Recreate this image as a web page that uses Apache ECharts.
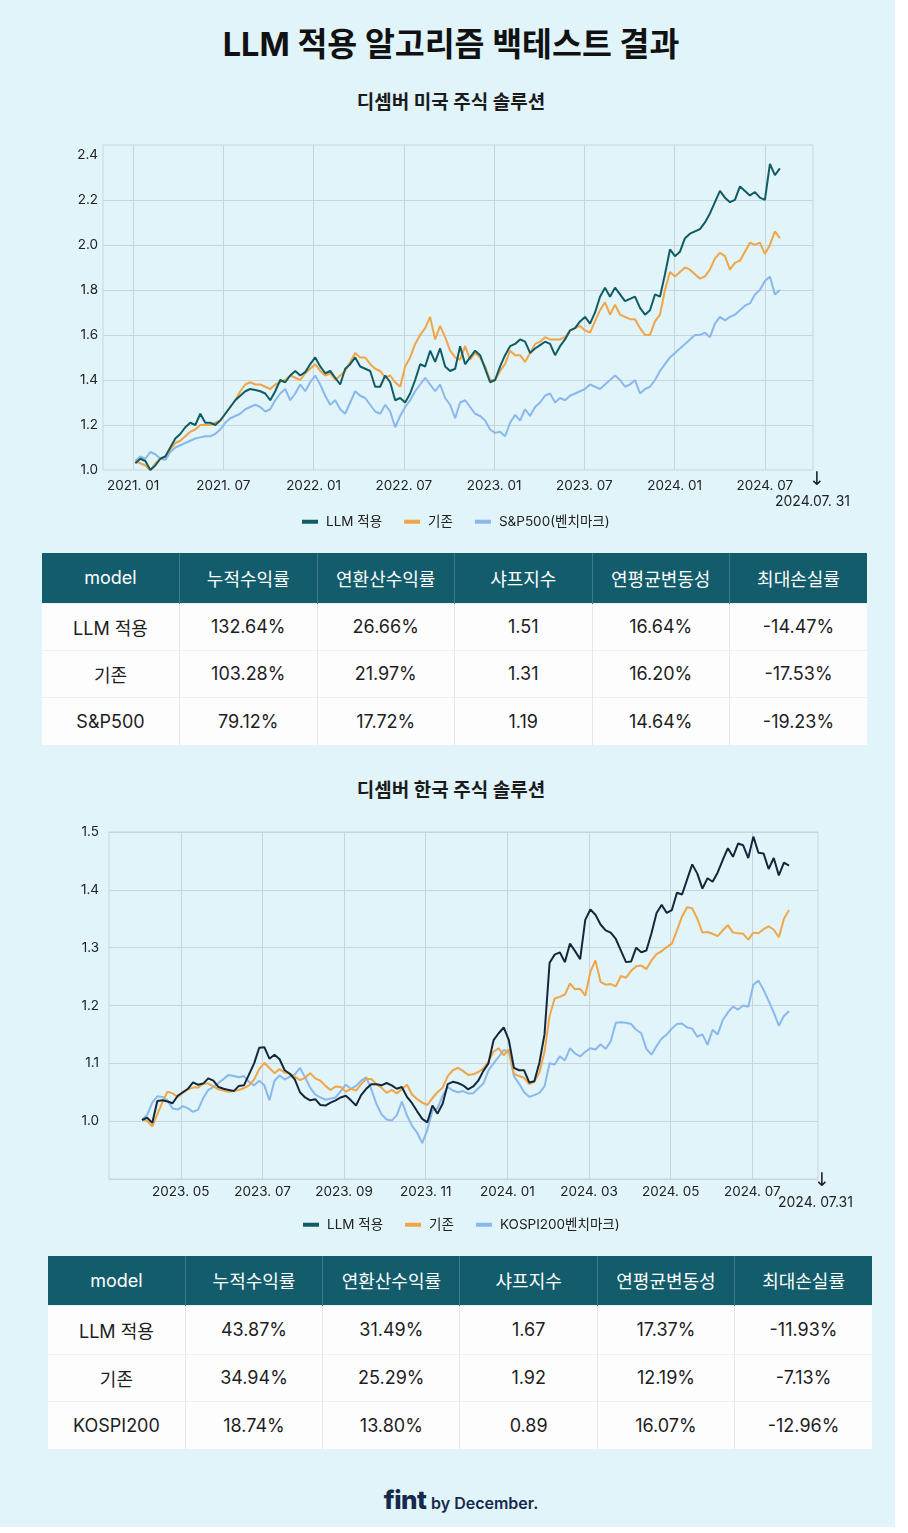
<!DOCTYPE html>
<html>
<head>
<meta charset="utf-8">
<script src="https://cdn.jsdelivr.net/npm/echarts@6/dist/echarts.min.js"></script>
<style>
    body { margin: 0; width: 908px; height: 1533px; background: #fff; overflow: hidden;
           font-family: Inter, "Noto Sans CJK KR", sans-serif; color: #1b1b1b; }
    #page { position: absolute; left: 0; top: 0; width: 895px; height: 1527px; background: #e0f4fa; }
    .title { position: absolute; left: 0; width: 902px; text-align: center; font-weight: 700; }
    #title { top: 24px; font-size: 32.5px; line-height: 42px; color: #111; }
    #sub1 { top: 90px; font-size: 19px; line-height: 26px; }
    #sub2 { top: 778px; font-size: 19px; line-height: 26px; }
    .chart { position: absolute; left: 0; width: 895px; }
    #chart1 { top: 120px; height: 420px; }
    #chart2 { top: 810px; height: 430px; }
    table { position: absolute; border-collapse: collapse; table-layout: fixed; background: #fdfdfd; }
    #table1 { left: 42px; top: 553px; width: 825px; }
    #table2 { left: 48px; top: 1256px; width: 824px; }
    th { background: #125c6b; color: #fff; font-weight: 400; font-size: 18px;
         border-left: 1px solid #3d7a87; }
    td { text-align: center; font-size: 18px; color: #1d1d1d;
         border-left: 1px solid #e3e8ea; border-top: 1px solid #eef1f2; }
    th:first-child, td:first-child { border-left: none; }
    #footer { position: absolute; left: 0; width: 922px; top: 1484px; text-align: center; color: #15294d; }
    #footer b { font-size: 26px; font-weight: 800; letter-spacing: -0.5px; }
    #footer span { font-size: 16px; font-weight: 600; }
</style>
</head>
<body>
<div id="page">
    <div class="title" id="title">LLM 적용 알고리즘 백테스트 결과</div>
    <div class="title" id="sub1">디셈버 미국 주식 솔루션</div>
    <div class="chart" id="chart1"></div>
    <table id="table1"></table>
    <div class="title" id="sub2">디셈버 한국 주식 솔루션</div>
    <div class="chart" id="chart2"></div>
    <table id="table2"></table>
    <div id="footer"><b>fint</b> <span>by December.</span></div>
</div>
<script>
// ---- 미국 (x: 2021.01 기준 개월) ----
const usStart = 0.15, usEnd = 43.0;
const usLlm = [
    1.03, 1.05, 1.04, 1.00, 1.02, 1.05, 1.06, 1.10, 1.14, 1.16, 1.19, 1.21,
    1.20, 1.25, 1.21, 1.21, 1.20, 1.22, 1.25, 1.28, 1.31, 1.33, 1.35, 1.36,
    1.355, 1.35, 1.34, 1.31, 1.35, 1.40, 1.39, 1.42, 1.44, 1.42, 1.435, 1.47,
    1.50, 1.46, 1.43, 1.44, 1.41, 1.38, 1.45, 1.47, 1.50, 1.46, 1.45, 1.44,
    1.37, 1.37, 1.42, 1.39, 1.31, 1.32, 1.30, 1.34, 1.40, 1.47, 1.46, 1.53,
    1.48, 1.54, 1.46, 1.44, 1.45, 1.55, 1.47, 1.50, 1.53, 1.51, 1.45, 1.39,
    1.40, 1.46, 1.51, 1.55, 1.56, 1.58, 1.57, 1.52, 1.54, 1.555, 1.57, 1.56,
    1.51, 1.55, 1.58, 1.62, 1.63, 1.66, 1.68, 1.65, 1.70, 1.77, 1.81, 1.77,
    1.81, 1.78, 1.75, 1.76, 1.77, 1.72, 1.69, 1.71, 1.78, 1.77, 1.87, 1.98,
    1.95, 1.97, 2.03, 2.05, 2.06, 2.07, 2.10, 2.14, 2.19, 2.24, 2.21, 2.19,
    2.20, 2.26, 2.24, 2.22, 2.235, 2.21, 2.20, 2.36, 2.31, 2.34
];
const usBase = [
    1.04, 1.03, 1.02, 1.00, 1.03, 1.05, 1.06, 1.09, 1.12, 1.13, 1.15, 1.17,
    1.18, 1.20, 1.20, 1.20, 1.21, 1.22, 1.25, 1.28, 1.31, 1.35, 1.38, 1.39,
    1.38, 1.38, 1.37, 1.36, 1.38, 1.39, 1.40, 1.42, 1.41, 1.40, 1.43, 1.45,
    1.47, 1.44, 1.42, 1.43, 1.40, 1.42, 1.44, 1.48, 1.52, 1.50, 1.50, 1.47,
    1.45, 1.44, 1.41, 1.42, 1.39, 1.37, 1.46, 1.50, 1.56, 1.60, 1.63, 1.68,
    1.58, 1.64, 1.59, 1.53, 1.50, 1.49, 1.55, 1.49, 1.52, 1.50, 1.46, 1.40,
    1.40, 1.44, 1.47, 1.53, 1.51, 1.51, 1.48, 1.52, 1.56, 1.57, 1.59, 1.58,
    1.58, 1.58, 1.59, 1.62, 1.63, 1.64, 1.62, 1.61, 1.66, 1.71, 1.745, 1.69,
    1.735, 1.69, 1.68, 1.67, 1.67, 1.63, 1.60, 1.60, 1.66, 1.69, 1.80, 1.88,
    1.86, 1.88, 1.90, 1.89, 1.87, 1.85, 1.86, 1.89, 1.94, 1.965, 1.95, 1.89,
    1.92, 1.93, 1.97, 2.01, 2.00, 2.01, 1.96, 2.00, 2.06, 2.03
];
const usBench = [
    1.04, 1.06, 1.05, 1.08, 1.07, 1.05, 1.045, 1.08, 1.10, 1.11, 1.12, 1.13,
    1.14, 1.145, 1.15, 1.15, 1.16, 1.18, 1.21, 1.23, 1.24, 1.25, 1.27, 1.28,
    1.29, 1.28, 1.26, 1.27, 1.31, 1.34, 1.36, 1.31, 1.34, 1.38, 1.35, 1.39,
    1.42, 1.38, 1.33, 1.29, 1.31, 1.27, 1.25, 1.30, 1.35, 1.33, 1.32, 1.29,
    1.26, 1.25, 1.29, 1.26, 1.19, 1.24, 1.28, 1.31, 1.35, 1.38, 1.41, 1.38,
    1.35, 1.38, 1.32, 1.29, 1.23, 1.30, 1.31, 1.28, 1.25, 1.24, 1.22, 1.18,
    1.165, 1.17, 1.15, 1.21, 1.245, 1.22, 1.27, 1.24, 1.28, 1.30, 1.33, 1.34,
    1.30, 1.32, 1.31, 1.33, 1.34, 1.35, 1.36, 1.38, 1.37, 1.36, 1.38, 1.40,
    1.42, 1.40, 1.37, 1.38, 1.40, 1.34, 1.36, 1.37, 1.40, 1.44, 1.47, 1.50,
    1.52, 1.54, 1.56, 1.58, 1.60, 1.60, 1.61, 1.59, 1.65, 1.68, 1.665, 1.68,
    1.69, 1.71, 1.73, 1.74, 1.78, 1.80, 1.84, 1.86, 1.78, 1.80
];
const usTickMonths = [0, 6, 12, 18, 24, 30, 36, 42];
const usTickLabels = ['2021. 01', '2021. 07', '2022. 01', '2022. 07', '2023. 01', '2023. 07', '2024. 01', '2024. 07'];
const usYLabels = [1.0, 1.2, 1.4, 1.6, 1.8, 2.0, 2.2, 2.4];
const usYGrid = [1.2, 1.4, 1.6, 1.8, 2.0, 2.2];

// ---- 한국 (x: 2023.01 기준 개월) ----
const krStart = 3.05, krEnd = 18.9;
const krLlm = [
    1.002, 1.006, 0.997, 1.035, 1.036, 1.034, 1.031, 1.044, 1.050, 1.056, 1.067, 1.063,
    1.065, 1.074, 1.070, 1.059, 1.056, 1.054, 1.052, 1.061, 1.062, 1.081, 1.100, 1.127,
    1.128, 1.108, 1.115, 1.107, 1.088, 1.082, 1.072, 1.050, 1.041, 1.036, 1.038, 1.028,
    1.027, 1.032, 1.036, 1.041, 1.044, 1.036, 1.027, 1.045, 1.056, 1.064, 1.064, 1.062,
    1.066, 1.062, 1.056, 1.059, 1.042, 1.031, 1.017, 1.004, 0.998, 1.027, 1.013, 1.030,
    1.064, 1.068, 1.066, 1.062, 1.055, 1.060, 1.070, 1.087, 1.100, 1.140, 1.152, 1.162,
    1.140, 1.092, 1.088, 1.088, 1.067, 1.069, 1.101, 1.150, 1.274, 1.288, 1.292, 1.275,
    1.307, 1.294, 1.280, 1.348, 1.366, 1.357, 1.340, 1.330, 1.326, 1.315, 1.295, 1.275,
    1.276, 1.300, 1.292, 1.295, 1.325, 1.360, 1.374, 1.360, 1.365, 1.395, 1.392, 1.418,
    1.444, 1.428, 1.402, 1.420, 1.414, 1.430, 1.452, 1.472, 1.457, 1.480, 1.477, 1.455,
    1.492, 1.464, 1.463, 1.436, 1.455, 1.425, 1.447, 1.442
];
const krBase = [
    1.004, 1.000, 0.991, 1.012, 1.033, 1.051, 1.048, 1.042, 1.049, 1.055, 1.058, 1.058,
    1.065, 1.065, 1.060, 1.055, 1.053, 1.051, 1.052, 1.054, 1.057, 1.062, 1.072, 1.090,
    1.101, 1.092, 1.083, 1.090, 1.084, 1.082, 1.077, 1.071, 1.075, 1.083, 1.074, 1.070,
    1.061, 1.054, 1.060, 1.059, 1.051, 1.056, 1.053, 1.064, 1.073, 1.073, 1.064, 1.058,
    1.049, 1.054, 1.048, 1.055, 1.063, 1.046, 1.038, 1.032, 1.028, 1.040, 1.050, 1.058,
    1.078, 1.088, 1.092, 1.087, 1.080, 1.081, 1.085, 1.091, 1.103, 1.120, 1.126, 1.114,
    1.124, 1.082, 1.078, 1.075, 1.064, 1.068, 1.084, 1.120, 1.182, 1.212, 1.215, 1.219,
    1.238, 1.228, 1.229, 1.217, 1.258, 1.278, 1.241, 1.236, 1.237, 1.233, 1.251, 1.248,
    1.260, 1.268, 1.269, 1.263, 1.278, 1.289, 1.294, 1.301, 1.307, 1.330, 1.354, 1.370,
    1.368, 1.350, 1.326, 1.327, 1.324, 1.320, 1.330, 1.339, 1.326, 1.325, 1.324, 1.314,
    1.326, 1.325, 1.332, 1.337, 1.331, 1.318, 1.350, 1.365
];
const krBench = [
    1.002, 1.011, 1.032, 1.043, 1.042, 1.036, 1.022, 1.020, 1.026, 1.022, 1.016, 1.020,
    1.040, 1.054, 1.059, 1.066, 1.073, 1.080, 1.078, 1.076, 1.078, 1.068, 1.062, 1.070,
    1.062, 1.036, 1.070, 1.079, 1.072, 1.077, 1.081, 1.092, 1.076, 1.058, 1.046, 1.041,
    1.037, 1.039, 1.041, 1.052, 1.063, 1.056, 1.061, 1.070, 1.076, 1.055, 1.030, 1.012,
    1.003, 1.001, 1.010, 1.034, 1.010, 0.992, 0.980, 0.962, 0.985, 1.018, 1.022, 1.044,
    1.059, 1.053, 1.050, 1.052, 1.048, 1.048, 1.057, 1.065, 1.088, 1.100, 1.111, 1.123,
    1.120, 1.078, 1.065, 1.050, 1.042, 1.045, 1.049, 1.060, 1.100, 1.098, 1.112, 1.105,
    1.126, 1.117, 1.112, 1.120, 1.126, 1.124, 1.133, 1.125, 1.138, 1.170, 1.171, 1.170,
    1.168, 1.158, 1.152, 1.125, 1.115, 1.130, 1.143, 1.150, 1.160, 1.168, 1.169, 1.162,
    1.160, 1.146, 1.150, 1.132, 1.158, 1.150, 1.175, 1.188, 1.198, 1.193, 1.200, 1.198,
    1.236, 1.243, 1.227, 1.208, 1.188, 1.165, 1.182, 1.190
];
const krTickMonths = [4, 6, 8, 10, 12, 14, 16, 18];
const krTickLabels = ['2023. 05', '2023. 07', '2023. 09', '2023. 11', '2024. 01', '2024. 03', '2024. 05', '2024. 07'];

// ---- 표 ----
const tableHeader = ['model', '누적수익률', '연환산수익률', '샤프지수', '연평균변동성', '최대손실률'];
const usRows = [
    ['LLM 적용', '132.64%', '26.66%', '1.51', '16.64%', '-14.47%'],
    ['기존', '103.28%', '21.97%', '1.31', '16.20%', '-17.53%'],
    ['S&P500', '79.12%', '17.72%', '1.19', '14.64%', '-19.23%']
];
const krRows = [
    ['LLM 적용', '43.87%', '31.49%', '1.67', '17.37%', '-11.93%'],
    ['기존', '34.94%', '25.29%', '1.92', '12.19%', '-7.13%'],
    ['KOSPI200', '18.74%', '13.80%', '0.89', '16.07%', '-12.96%']
];

const FONT = 'Inter, "Noto Sans CJK KR", sans-serif';
const gridColor = '#c9d5da';
const orange = '#f2a546';
const blue = '#8ab8ec';
const teal = '#0f5c63';

function toPoints(vals, start, end) {
    const step = (end - start) / (vals.length - 1);
    return vals.map((v, i) => [start + i * step, v]);
}

function lineSeries(name, vals, start, end, color, z) {
    return {
        name: name, type: 'line', data: toPoints(vals, start, end),
        showSymbol: false, z: z,
        lineStyle: { color: color, width: 2 },
        itemStyle: { color: color },
        emphasis: { disabled: true }
    };
}

function buildOption(cfg) {
    return {
        animation: false,
        textStyle: { fontFamily: FONT },
        grid: {
            left: cfg.grid[0], top: cfg.grid[1], width: cfg.grid[2], height: cfg.grid[3],
            show: true, borderColor: gridColor, borderWidth: 1, backgroundColor: 'transparent'
        },
        legend: {
            left: cfg.legendLeft, top: cfg.legendTop, icon: 'rect',
            itemWidth: 16, itemHeight: 4, itemGap: 22,
            textStyle: { fontSize: 13.5, color: '#222', fontFamily: FONT, padding: [0, 0, 0, 3] },
            data: cfg.legend
        },
        xAxis: {
            type: 'value', min: cfg.xMin, max: cfg.xMax,
            axisLine: { show: false },
            axisTick: { show: false, customValues: cfg.ticks },
            axisLabel: {
                customValues: cfg.ticks, margin: cfg.xMargin,
                fontSize: 13.5, color: '#222', fontFamily: FONT,
                formatter: v => cfg.tickLabels[cfg.ticks.indexOf(Math.round(v))] || ''
            },
            splitLine: { show: true, lineStyle: { color: gridColor, width: 1 } }
        },
        yAxis: cfg.yAxis,
        graphic: [
            { type: 'text', left: cfg.arrow[0] - 6, top: cfg.arrow[1] - 11,
              style: { text: '↓', fontSize: 19, fill: '#222', fontFamily: '"DejaVu Sans"' } },
            { type: 'text', left: cfg.endDate[0] - 40, top: cfg.endDate[1] - 8,
              style: { text: cfg.endText, fontSize: 14, fill: '#222', fontFamily: FONT, width: 80, align: 'center' } }
        ],
        series: cfg.series
    };
}

const chart1 = echarts.init(document.getElementById('chart1'));
chart1.setOption(buildOption({
    grid: [103, 25, 710, 325],
    legendLeft: 297, legendTop: 390,
    legend: [
        { name: 'LLM 적용', itemStyle: { color: teal } },
        { name: '기존', itemStyle: { color: orange } },
        { name: 'S&P500(벤치마크)', itemStyle: { color: blue } }
    ],
    xMin: -2, xMax: 45.2, ticks: usTickMonths, tickLabels: usTickLabels, xMargin: 9,
    yAxis: {
        type: 'value', min: 1.0, max: 2.444, interval: 0.2,
        axisLine: { show: false },
        axisTick: { show: false, customValues: usYGrid },
        axisLabel: {
            customValues: usYLabels, margin: 5, fontSize: 13.5, color: '#222', fontFamily: FONT,
            formatter: v => v.toFixed(1)
        },
        splitLine: { show: true, lineStyle: { color: gridColor, width: 1 } }
    },
    arrow: [815, 362], endDate: [815, 383], endText: '2024.07. 31',
    series: [
        lineSeries('LLM 적용', usLlm, usStart, usEnd, teal, 4),
        lineSeries('기존', usBase, usStart, usEnd, orange, 3),
        lineSeries('S&P500(벤치마크)', usBench, usStart, usEnd, blue, 2)
    ]
}));

const chart2 = echarts.init(document.getElementById('chart2'));
chart2.setOption(buildOption({
    grid: [109, 22, 709, 347],
    legendLeft: 298, legendTop: 403,
    legend: [
        { name: 'LLM 적용', itemStyle: { color: teal } },
        { name: '기존', itemStyle: { color: orange } },
        { name: 'KOSPI200벤치마크)', itemStyle: { color: blue } }
    ],
    xMin: 2.24, xMax: 19.61, ticks: krTickMonths, tickLabels: krTickLabels, xMargin: 6,
    yAxis: {
        type: 'value', min: 0.9, max: 1.5, interval: 0.1,
        axisLine: { show: false },
        axisTick: { show: false },
        axisLabel: {
            showMinLabel: false, margin: 10, fontSize: 13.5, color: '#222', fontFamily: FONT,
            formatter: v => v.toFixed(1)
        },
        splitLine: { show: true, lineStyle: { color: gridColor, width: 1 } }
    },
    arrow: [820, 373], endDate: [818, 394], endText: '2024. 07.31',
    series: [
        lineSeries('LLM 적용', krLlm, krStart, krEnd, '#15283b', 4),
        lineSeries('기존', krBase, krStart, krEnd, orange, 3),
        lineSeries('KOSPI200벤치마크)', krBench, krStart, krEnd, blue, 2)
    ]
}));

function fillTable(id, rows, heights) {
    const t = document.getElementById(id);
    let html = '<tr style="height:' + heights[0] + 'px">' + tableHeader.map(h => '<th>' + h + '</th>').join('') + '</tr>';
    rows.forEach((r, i) => {
        html += '<tr style="height:' + heights[i + 1] + 'px">' + r.map(c => '<td>' + c + '</td>').join('') + '</tr>';
    });
    t.innerHTML = html;
}
fillTable('table1', usRows, [50, 47, 47, 48]);
fillTable('table2', krRows, [49, 49, 47, 48]);
</script>
</body>
</html>
